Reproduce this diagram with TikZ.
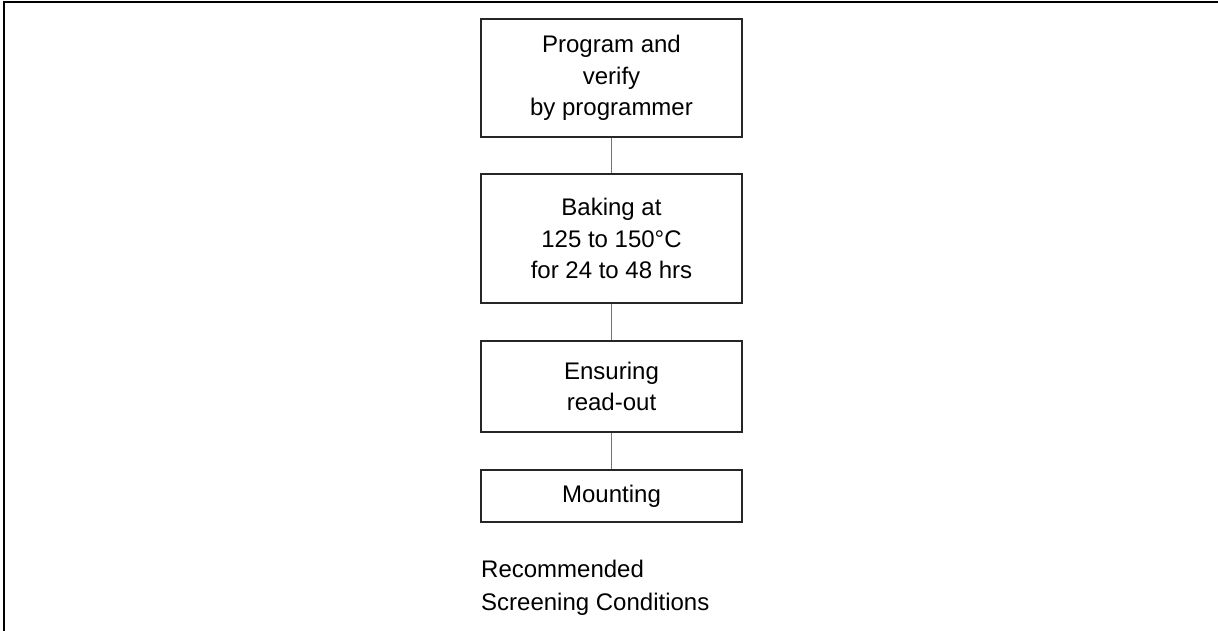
\documentclass[tikz,border=0pt]{standalone}
\usepackage{fontspec}
\setmainfont{Liberation Sans}
\begin{document}
\begin{tikzpicture}[x=1pt,y=1pt,
  stepbox/.style={draw=black!85,line width=1.4pt,minimum width=261pt,inner sep=0pt,align=center,
    font=\fontsize{24}{31.5}\selectfont},
  conn/.style={draw=black!55,line width=1.6pt}]
\useasboundingbox (0,0) rectangle (1218,-631);
\draw[line width=2pt] (1218,-2) -- (4,-2) -- (4,-631);
\node[stepbox,minimum height=118pt] (b1) at (611.5,-78) {Program and\\verify\\by programmer};
\node[stepbox,minimum height=129pt] (b2) at (611.5,-238.5) {Baking at\\125 to 150°C\\for 24 to 48 hrs};
\node[stepbox,minimum height=91pt] (b3) at (611.5,-386.5) {Ensuring\\read-out};
\node[stepbox,minimum height=52pt] (b4) at (611.5,-496) {Mounting};
\draw[conn] (b1.south) -- (b2.north);
\draw[conn] (b2.south) -- (b3.north);
\draw[conn] (b3.south) -- (b4.north);
\node[anchor=base west,inner sep=0pt,align=left,font=\fontsize{24}{33}\selectfont] (cap) at (481,-610) {Recommended\\Screening Conditions};
\end{tikzpicture}
\end{document}
